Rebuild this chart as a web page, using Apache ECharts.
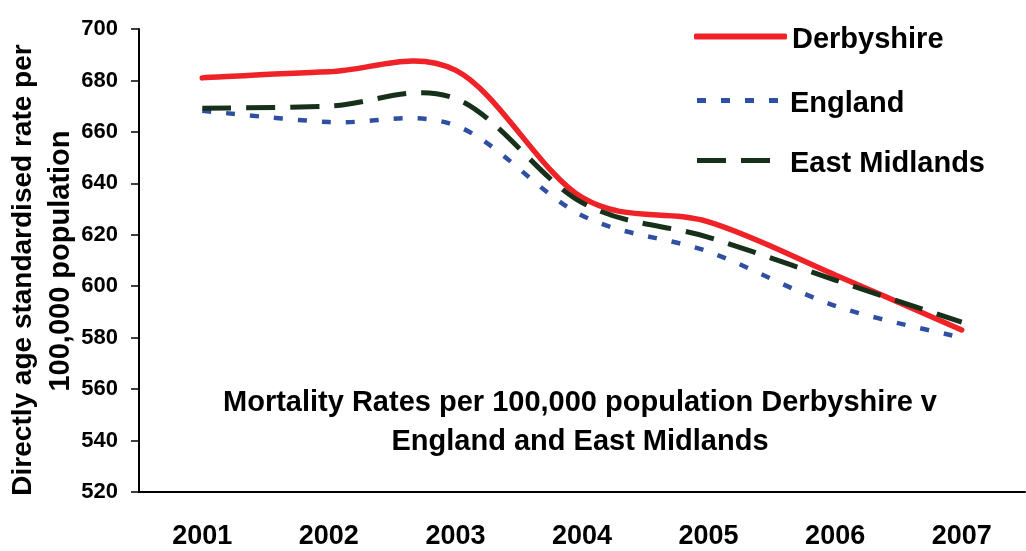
<!DOCTYPE html>
<html>
<head>
<meta charset="utf-8">
<script src="https://cdn.jsdelivr.net/npm/echarts@6/dist/echarts.min.js"></script>
<style>
  html, body { margin: 0; padding: 0; background: #fff; }
  .main { width: 1026px; height: 551px; }
</style>
</head>
<body>
<div class="main"></div>
<script>
var years = ['2001', '2002', '2003', '2004', '2005', '2006', '2007']
var derbyshire = [681, 683.4, 684, 634.5, 625, 604.4, 583]
var england = [668.2, 663.8, 662.5, 627.5, 613.4, 592.4, 580]
var eastMidlands = [669.2, 670, 673, 632.5, 619, 602.4, 586]
var titleLines = ['Mortality Rates per 100,000 population Derbyshire v', 'England and East Midlands']
var yNameLines = ['Directly age standardised rate per', '100,000 population']

var FONT = 'Liberation Sans, Arial, sans-serif'
var myChart = echarts.init(document.querySelector('.main'))

// excel-style smoothing (catmull-rom through every point)
function smoothPath(values, api) {
    var pts = values.map(function (v, i) { return api.coord([i, v]) })
    var d = 'M' + pts[0][0] + ',' + pts[0][1]
    for (var i = 0; i < pts.length - 1; i++) {
        var p0 = pts[i - 1] || pts[i], p1 = pts[i], p2 = pts[i + 1], p3 = pts[i + 2] || pts[i + 1]
        d += 'C' + (p1[0] + (p2[0] - p0[0]) / 6) + ',' + (p1[1] + (p2[1] - p0[1]) / 6) +
            ' ' + (p2[0] - (p3[0] - p1[0]) / 6) + ',' + (p2[1] - (p3[1] - p1[1]) / 6) +
            ' ' + p2[0] + ',' + p2[1]
    }
    return d
}

function curve(name, values, color, width, dash, cap) {
    return {
        name: name,
        type: 'custom',
        coordinateSystem: 'cartesian2d',
        itemStyle: { color: color },
        data: values.map(function (v, i) { return [i, v] }),
        renderItem: function (params, api) {
            if (params.dataIndex !== 0) return null
            return {
                type: 'path',
                shape: { pathData: smoothPath(values, api) },
                style: { fill: 'none', stroke: color, lineWidth: width, lineDash: dash, lineCap: cap }
            }
        }
    }
}

function legendFor(name, icon, w, h, top, pad) {
    return {
        data: [{ name: name, icon: icon }],
        orient: 'vertical',
        left: 694 + (w < 90 ? 3 : 0),
        top: top,
        padding: 0,
        itemWidth: w,
        itemHeight: h,
        selectedMode: false,
        formatter: '{t|{name}}',
        textStyle: {
            color: '#000', fontSize: 29, fontWeight: 'bold', fontFamily: FONT,
            rich: { t: { color: '#000', fontSize: 29, fontWeight: 'bold', fontFamily: FONT, lineHeight: 32, padding: [6, 0, 0, pad] } }
        }
    }
}

var axisText = { color: '#000', fontWeight: 'bold', fontFamily: FONT }

option = {
    animation: false,
    backgroundColor: '#fff',
    title: {
        text: titleLines.join('\n'),
        left: 580,
        top: 383,
        padding: 0,
        textAlign: 'center',
        textStyle: { color: '#000', fontSize: 29, fontWeight: 'bold', fontFamily: FONT, lineHeight: 39 }
    },
    legend: [
        legendFor('Derbyshire', 'roundRect', 93, 6, 19, 0),
        legendFor('England', 'path://M0,0h9v5h-9zM24,0h9v5h-9zM48,0h9v5h-9zM72,0h9v5h-9z', 81, 5, 83, 7),
        legendFor('East Midlands', 'path://M0,0h29v5h-29zM44,0h29v5h-29z', 73, 5, 143, 15)
    ],
    grid: { left: 139, right: 1, top: 29, bottom: 59, outerBoundsMode: 'none' },
    xAxis: {
        type: 'category',
        data: years,
        boundaryGap: true,
        axisLine: { lineStyle: { color: '#000', width: 2 } },
        axisTick: { length: 9, lineStyle: { color: '#000', width: 1.5 } },
        axisLabel: Object.assign({ fontSize: 27, margin: 31 }, axisText),
        splitLine: { show: false }
    },
    yAxis: {
        type: 'value',
        min: 520,
        max: 700,
        interval: 20,
        axisLine: { show: true, lineStyle: { color: '#000', width: 2 } },
        axisTick: { show: true, length: 8, lineStyle: { color: '#000', width: 1.5 } },
        axisLabel: Object.assign({ fontSize: 22, margin: 21 }, axisText),
        splitLine: { show: false }
    },
    graphic: [
        {
            type: 'text', x: 23, y: 270, rotation: Math.PI / 2,
            style: { text: yNameLines[0], fill: '#000', fontSize: 28, fontWeight: 'bold', fontFamily: FONT, align: 'center', verticalAlign: 'middle' }
        },
        {
            type: 'text', x: 61, y: 261, rotation: Math.PI / 2,
            style: { text: yNameLines[1], fill: '#000', fontSize: 29, fontWeight: 'bold', fontFamily: FONT, align: 'center', verticalAlign: 'middle' }
        }
    ],
    series: [
        curve('Derbyshire', derbyshire, '#EE2227', 5.5, null, 'round'),
        curve('England', england, '#2F4FA2', 4.5, [9, 15], 'butt'),
        curve('East Midlands', eastMidlands, '#16301A', 5, [29, 15], 'butt')
    ]
};

myChart.setOption(option);
</script>
</body>
</html>
